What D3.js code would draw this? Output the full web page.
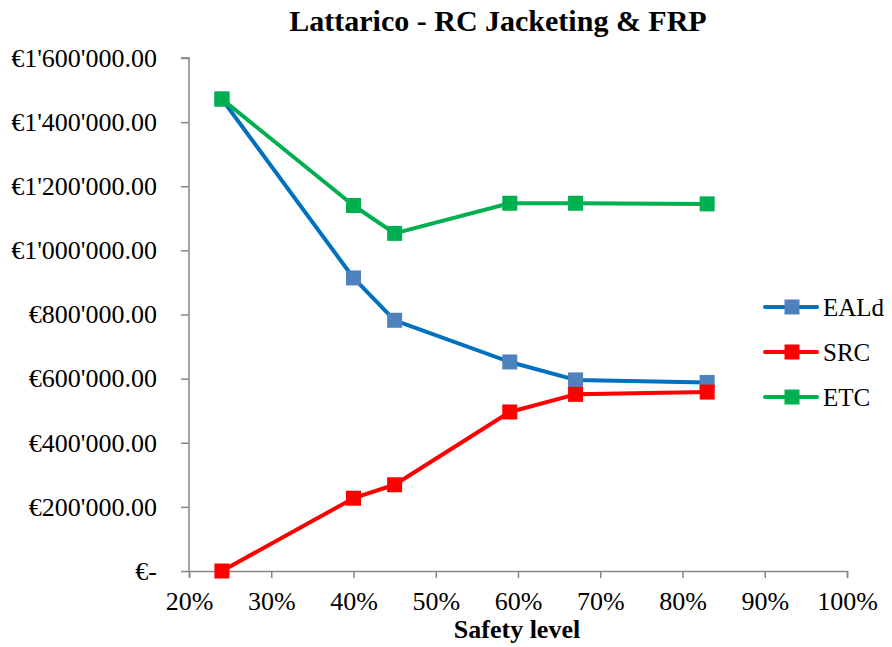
<!DOCTYPE html>
<html><head><meta charset="utf-8">
<script src="https://cdn.jsdelivr.net/npm/d3@7"></script>
<style>body{margin:0;background:#fff}svg{display:block}</style>
</head><body><svg id="c" width="892" height="647"></svg>
<script>
const safety = [0.24, 0.40, 0.45, 0.59, 0.67, 0.83];
const ealdValues = [1472000, 914000, 782000, 652000, 596000, 588000];
const srcValues = [0, 227000, 269000, 496000, 551000, 558000];
const etcValues = [1472000, 1140000, 1053000, 1147000, 1147000, 1145000];
const seriesNames = ["EALd", "SRC", "ETC"];
const yTicks = [0, 200000, 400000, 600000, 800000, 1000000, 1200000, 1400000, 1600000];
const xTicks = [0.2, 0.3, 0.4, 0.5, 0.6, 0.7, 0.8, 0.9, 1.0];
const title = "Lattarico - RC Jacketing & FRP";
const xTitle = "Safety level";

const FONT = "'Liberation Serif', 'Times New Roman', Tinos, 'DejaVu Serif', serif";

const series = [
  {name: seriesNames[0], values: ealdValues, line: "#0070C0", marker: "#4F81BD"},
  {name: seriesNames[1], values: srcValues, line: "#FF0000", marker: "#FF0000"},
  {name: seriesNames[2], values: etcValues, line: "#00B050", marker: "#00B050"}
];

const svg = d3.select("#c");
const L = 189, R = 847, T = 58, B = 571;
const x = d3.scaleLinear().domain([0.2, 1.0]).range([L, R]);
const y = d3.scaleLinear().domain([0, 1600000]).range([B, T]);
const axisColor = "#868686";

function fmtEuro(v){
  if (v === 0) return "€-";
  const s = d3.format(",.2f")(v).replace(/,/g, "'");
  return "€" + s;
}

const yAx = svg.append("g").attr("transform", `translate(${L},0)`)
  .call(d3.axisLeft(y).tickValues(yTicks).tickSize(8).tickPadding(24).tickFormat(fmtEuro));
const xAx = svg.append("g").attr("transform", `translate(0,${B})`)
  .call(d3.axisBottom(x).tickValues(xTicks).tickSize(7).tickPadding(14).tickFormat(d3.format(".0%")));
[yAx, xAx].forEach(g => {
  g.attr("font-family", null);
  g.selectAll("path").attr("stroke", axisColor).attr("stroke-width", 1.5);
  g.selectAll("line").attr("stroke", axisColor).attr("stroke-width", 1.5);
  g.selectAll("text").style("font-family", FONT).style("font-size", "26px").attr("fill", "#000");
});
yAx.select(".domain").attr("d", `M-8,${T}H0V${B}`);
xAx.selectAll("text").attr("dy", "0.7em");

const line = d3.line().x((d, i) => x(safety[i])).y(d => y(d));
const ms = 15;
series.forEach(s => {
  svg.append("path").attr("d", line(s.values)).attr("fill", "none")
    .attr("stroke", s.line).attr("stroke-width", 4).attr("stroke-linejoin", "round");
  svg.append("g").selectAll("rect").data(s.values).join("rect")
    .attr("x", (d, i) => x(safety[i]) - ms / 2).attr("y", d => y(d) - ms / 2)
    .attr("width", ms).attr("height", ms).attr("fill", s.marker);
});

// legend
const lg = svg.append("g");
series.forEach((s, i) => {
  const cy = 307 + i * 45;
  lg.append("line").attr("x1", 765).attr("x2", 817).attr("y1", cy).attr("y2", cy)
    .attr("stroke", s.line).attr("stroke-width", 4).attr("stroke-linecap", "round");
  lg.append("rect").attr("x", 792 - ms / 2).attr("y", cy - ms / 2).attr("width", ms).attr("height", ms).attr("fill", s.marker);
  lg.append("text").attr("x", 823).attr("y", cy).attr("dy", "0.35em")
    .style("font-family", FONT).style("font-size", "25px").attr("fill", "#000").text(s.name);
});

svg.append("text").attr("x", 498).attr("y", 31).attr("text-anchor", "middle")
  .style("font-family", FONT).style("font-size", "30px").style("font-weight", "bold").attr("fill", "#000").text(title);
svg.append("text").attr("x", 517).attr("y", 638).attr("text-anchor", "middle")
  .style("font-family", FONT).style("font-size", "26px").style("font-weight", "bold").attr("fill", "#000").text(xTitle);
</script></body></html>
